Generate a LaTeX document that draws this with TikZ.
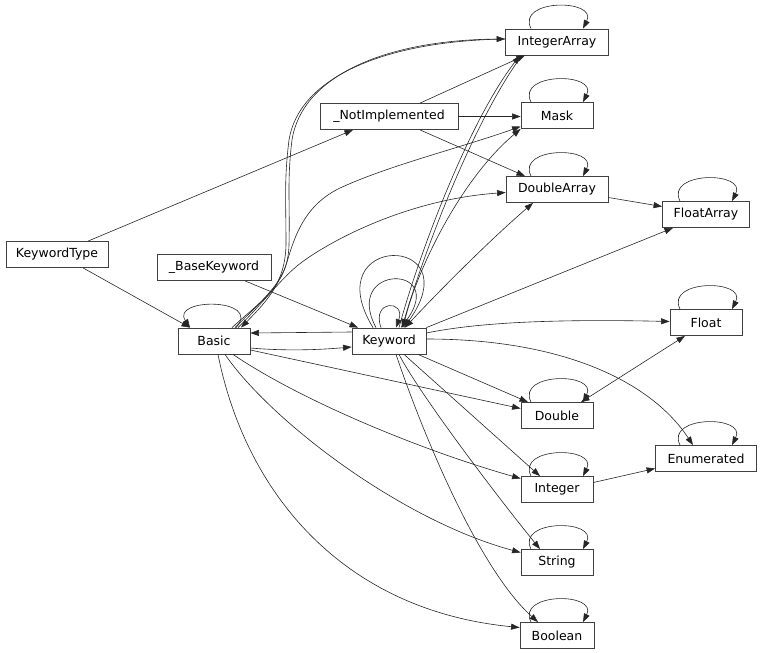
\documentclass[tikz,border=0pt]{standalone}
\usepackage{fontspec}
\setmainfont{DejaVu Sans}
\usetikzlibrary{arrows.meta,calc}
\tikzset{
  box/.style={draw=black!75, line width=0.8pt, minimum height=26pt, inner sep=0pt, font=\fontsize{12.5}{14}\selectfont},
  conn/.style={draw=black!85, line width=0.6pt, -{Triangle[length=8.5pt,width=6pt]}},
  bconn/.style={draw=black!85, line width=0.6pt, {Triangle[length=8.5pt,width=6pt]}-{Triangle[length=8.5pt,width=6pt]}},
}
\newcommand\myloop[1]{\draw[conn] ($(#1.north)+(-26,0)$) .. controls +(-15,-30) and +(15,-30) .. ($(#1.north)+(26,0)$);}
\begin{document}
\begin{tikzpicture}[x=1pt,y=-1pt]
\useasboundingbox (0,0) rectangle (763,653);
% nodes
\node[box, minimum width=103pt] (IntegerArray) at (557,42) {IntegerArray};
\node[box, minimum width=138pt] (NotImpl) at (389,116.5) {\_NotImplemented};
\node[box, minimum width=72pt] (Mask) at (557,115.5) {Mask};
\node[box, minimum width=102pt] (DoubleArray) at (557,189.5) {DoubleArray};
\node[box, minimum width=87pt] (FloatArray) at (706,214.5) {FloatArray};
\node[box, minimum width=72pt] (Float) at (706,322.5) {Float};
\node[box, minimum width=102pt] (KeywordType) at (57,254.5) {KeywordType};
\node[box, minimum width=114pt] (BaseKeyword) at (214,267.5) {\_BaseKeyword};
\node[box, minimum width=72pt] (Basic) at (214,341) {Basic};
\node[box, minimum width=74pt] (Keyword) at (389,341) {Keyword};
\node[box, minimum width=72pt] (Double) at (557,415.5) {Double};
\node[box, minimum width=101pt] (Enumerated) at (706,458.5) {Enumerated};
\node[box, minimum width=72pt] (Integer) at (557,489.5) {Integer};
\node[box, minimum width=72pt] (String) at (557,562.5) {String};
\node[box, minimum width=74pt] (Boolean) at (557,635.5) {Boolean};
% self loops
\myloop{IntegerArray}
\myloop{Mask}
\myloop{DoubleArray}
\myloop{FloatArray}
\myloop{Float}
\myloop{Double}
\myloop{Enumerated}
\myloop{Integer}
\myloop{String}
\myloop{Boolean}
\draw[conn] ($(Basic.north)+(22,0)$) .. controls +(27,-30) and +(-20,-30) .. ($(Basic.north)+(-24,0)$);
\draw[conn] ($(Keyword.north)+(-8,0)$) .. controls +(-10,-28) and +(10,-28) .. ($(Keyword.north)+(7,0)$);
\draw[conn] ($(Keyword.north)+(-13,0)$) .. controls +(-34,-64) and +(48,-64) .. ($(Keyword.north)+(12,0)$);
\draw[conn] ($(Keyword.north)+(-16,0)$) .. controls +(-58,-95) and +(68,-95) .. ($(Keyword.north)+(15,0)$);
% KeywordType / BaseKeyword
\draw[conn] ($(KeywordType.north)+(31,0)$) -- ($(NotImpl.south)+(-36,0)$);
\draw[conn] ($(KeywordType.south)+(26,0)$) -- ($(Basic.north)+(-24,0)$);
\draw[conn] ($(BaseKeyword.south)+(31,0)$) -- ($(Keyword.north)+(-31,0)$);
% Basic <-> Keyword
\draw[conn] ($(Keyword.west)+(0,-9)$) -- ($(Basic.east)+(0,-8)$);
\draw[conn] ($(Basic.east)+(0,7)$) .. controls +(35,3) and +(-35,3) .. ($(Keyword.west)+(0,6)$);
% Basic upward curves
\draw[conn] ($(Basic.north)+(18,0)$) .. controls (262,300) and (288,285) .. (289,245)
   .. controls (290,200) and (287,180) .. (292,140)
   .. controls (302,76) and (385,40) .. ($(IntegerArray.west)+(0,-3)$);
\draw[conn] ($(IntegerArray.west)+(0,-3)$) .. controls (383,41) and (299,78) .. (289,140)
   .. controls (284,180) and (286,200) .. (286,245)
   .. controls (285,282) and (268,300) .. ($(Basic.north)+(27,0)$);
\draw[conn] ($(Basic.north)+(21,0)$) .. controls (265,298) and (280,285) .. (287,262)
   .. controls (295,235) and (305,205) .. (340,188)
   .. controls (390,165) and (460,148) .. ($(Mask.west)+(0,11)$);
\draw[conn] ($(Basic.north)+(24,0)$) .. controls (262,304) and (280,280) .. (297,266)
   .. controls (320,247) and (400,200) .. ($(DoubleArray.west)+(0,3)$);
% Keyword upward
\draw[conn] ($(Keyword.north)+(10,0)$) .. controls (420,250) and (470,120) .. ($(IntegerArray.south)+(-37,0)$);
\draw[conn] ($(IntegerArray.south)+(-35,0)$) .. controls (474,120) and (424,252) .. ($(Keyword.north)+(13,0)$);
\draw[bconn] ($(Keyword.north)+(14,0)$) .. controls (417,270) and (460,180) .. (Mask.south west);
\draw[bconn] ($(Keyword.north)+(16,0)$) .. controls (440,290) and (490,240) .. ($(DoubleArray.south)+(-24,0)$);
% NotImplemented
\draw[conn] (NotImpl.east) -- (NotImpl.east -| Mask.west);
\draw[conn] ($(NotImpl.north)+(31,0)$) -- ($(IntegerArray.south)+(-32,0)$);
\draw[conn] ($(NotImpl.south)+(31,0)$) -- ($(DoubleArray.north)+(-32,0)$);
% DoubleArray -> FloatArray
\draw[conn] ($(DoubleArray.east)+(0,8)$) -- ($(FloatArray.west)+(0,-8)$);
% Keyword rightward / downward
\draw[conn] (Keyword.north east) -- ($(FloatArray.south)+(-33,0)$);
\draw[conn] ($(Keyword.east)+(0,-8)$) .. controls (480,322) and (560,319) .. ($(Float.west)+(0,-1)$);
\draw[conn] ($(Keyword.east)+(0,-2)$) .. controls (560,339) and (650,380) .. ($(Enumerated.north)+(-13,0)$);
\draw[conn] ($(Keyword.south)+(29,0)$) -- ($(Double.north)+(-29,0)$);
\draw[conn] ($(Keyword.south)+(15,0)$) -- ($(Integer.north)+(-17,0)$);
\draw[conn] ($(Keyword.south)+(10,0)$) .. controls (420,395) and (500,500) .. ($(String.north)+(-17,0)$);
\draw[conn] ($(Keyword.south)+(7,0)$) .. controls (425,440) and (480,570) .. ($(Boolean.north)+(-19,0)$);
% Basic downward
\draw[conn] ($(Basic.east)+(0,9)$) -- ($(Double.west)+(0,-7)$);
\draw[conn] ($(Basic.south)+(19,0)$) .. controls (300,400) and (420,450) .. ($(Integer.west)+(0,-11)$);
\draw[conn] ($(Basic.south)+(11,0)$) .. controls (270,420) and (400,520) .. ($(String.west)+(0,-10)$);
\draw[conn] ($(Basic.south)+(4,0)$) .. controls (245,490) and (340,610) .. ($(Boolean.west)+(0,-8)$);
% others
\draw[conn] ($(Integer.east)+(0,-7)$) -- ($(Enumerated.west)+(0,10)$);
\draw[bconn] ($(Double.north)+(24,0)$) -- ($(Float.south)+(-21,0)$);
\end{tikzpicture}
\end{document}
